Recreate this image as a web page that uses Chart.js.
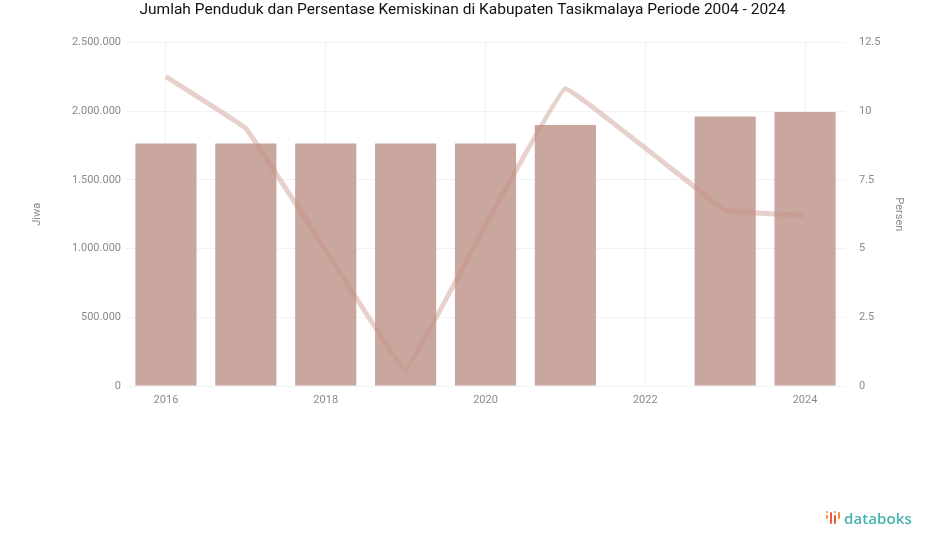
<!DOCTYPE html>
<html>
<head>
<meta charset="utf-8">
<script src="https://cdn.jsdelivr.net/npm/chart.js@4/dist/chart.umd.min.js"></script>
<style>
  html, body { margin: 0; padding: 0; background: #ffffff; }
  #wrap { position: relative; width: 925px; height: 547px; }
  #c { position: absolute; left: 0; top: 0; }
  #logo { position: absolute; left: 825px; top: 508px; display: flex; align-items: center; font-family: "Open Sans", "Noto Sans", sans-serif; font-weight: 600; font-size: 15px; color: #45b3ae; letter-spacing: 0.1px; }
  #logo svg { margin-right: 2px; }
</style>
</head>
<body>
<div id="wrap">
  <canvas id="c" width="925" height="547"></canvas>
  <div id="logo">
    <svg width="17" height="16" viewBox="0 0 17 16">
      <rect x="1" y="5" width="2" height="4" rx="1" fill="#f08a3c"/>
      <rect x="5" y="2" width="2" height="12" rx="1" fill="#ee5a3a"/>
      <rect x="9" y="5" width="2" height="9" rx="1" fill="#ee5a3a"/>
      <rect x="13" y="2" width="2" height="7" rx="1" fill="#f08a3c"/>
      <circle cx="2" cy="2" r="1" fill="#f08a3c"/>
      <circle cx="10" cy="2" r="1" fill="#f08a3c"/>
    </svg>
    <span>databoks</span>
  </div>
</div>
<script>
// ---- data ----
const categories = ['2016', '2017', '2018', '2019', '2020', '2021', '2022', '2023', '2024'];
const populationValues = [1766000, 1766000, 1766000, 1766000, 1766000, 1900000, null, 1962000, 1995000];
const povertyValues = [11.26, 9.38, 4.94, 0.58, 5.85, 10.83, null, 6.40, 6.21];
const leftTicks = [0, 500000, 1000000, 1500000, 2000000, 2500000];
const rightTicks = [0, 2.5, 5, 7.5, 10, 12.5];
const titleText = 'Jumlah Penduduk dan Persentase Kemiskinan di Kabupaten Tasikmalaya Periode 2004 - 2024';
const leftAxisTitle = 'Jiwa';
const rightAxisTitle = 'Persen';

const fmtId = v => v.toLocaleString('id-ID');
const tickFont = { family: 'Roboto, "Noto Sans", sans-serif', size: 11 };
const tickColor = '#8a8a8a';

new Chart(document.getElementById('c'), {
  data: {
    labels: categories,
    datasets: [
      {
        type: 'line',
        label: 'Persentase Kemiskinan',
        data: povertyValues,
        yAxisID: 'y1',
        borderColor: 'rgba(200,146,134,0.42)',
        borderWidth: 5,
        pointRadius: 0,
        tension: 0.05,
        spanGaps: true,
        order: 0
      },
      {
        type: 'bar',
        label: 'Jumlah Penduduk',
        data: populationValues,
        yAxisID: 'y',
        backgroundColor: '#c9a69e',
        borderWidth: 0,
        categoryPercentage: 0.86,
        barPercentage: 0.89,
        order: 1
      }
    ]
  },
  options: {
    responsive: false,
    animation: false,
    layout: { padding: { left: 0, right: 0, top: 0, bottom: 131 } },
    plugins: {
      legend: { display: false },
      tooltip: { enabled: false },
      title: {
        display: true,
        text: titleText,
        color: '#111111',
        font: { family: 'Roboto, "Noto Sans", sans-serif', size: 15.5, weight: 'normal' },
        padding: { top: 1, bottom: 23 }
      }
    },
    scales: {
      x: {
        offset: true,
        grid: { display: true, offset: false, color: 'rgba(0,0,0,0.05)', drawTicks: false },
        border: { display: false },
        ticks: { color: tickColor, font: tickFont, maxRotation: 0, autoSkip: true, maxTicksLimit: 5, padding: 8 },
        afterFit: s => { s.height = 30; }
      },
      y: {
        position: 'left',
        min: 0, max: 2500000,
        afterBuildTicks: s => { s.ticks = leftTicks.map(v => ({ value: v })); },
        grid: { color: 'rgba(0,0,0,0.05)', drawTicks: false },
        border: { display: false },
        ticks: { color: tickColor, font: tickFont, padding: 5, callback: v => fmtId(v) },
        title: { display: true, text: leftAxisTitle, color: tickColor, font: tickFont, padding: { top: 31, bottom: 6 } },
        afterFit: s => { s.width = 126; }
      },
      y1: {
        position: 'right',
        min: 0, max: 12.5,
        afterBuildTicks: s => { s.ticks = rightTicks.map(v => ({ value: v })); },
        grid: { display: false },
        border: { display: false },
        ticks: { color: tickColor, font: tickFont, padding: 6, callback: v => String(v) },
        title: { display: true, text: rightAxisTitle, color: tickColor, font: tickFont, padding: { top: 20, bottom: 6 } },
        afterFit: s => { s.width = 80; }
      }
    }
  }
});
</script>
</body>
</html>
